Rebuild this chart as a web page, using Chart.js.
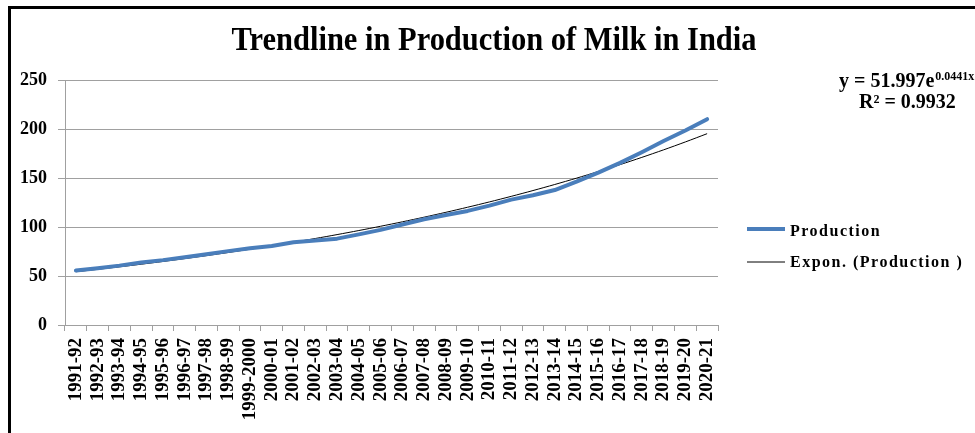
<!DOCTYPE html>
<html>
<head>
<meta charset="utf-8">
<script src="https://cdn.jsdelivr.net/npm/chart.js@4"></script>
<style>
  html, body { margin: 0; padding: 0; background: #fff; }
  #wrap { width: 975px; height: 433px; position: relative; }
</style>
</head>
<body>
<div id="wrap"><canvas id="c" width="975" height="433"></canvas></div>
<script>
const categories = ["1991-92","1992-93","1993-94","1994-95","1995-96","1996-97","1997-98","1998-99","1999-2000","2000-01","2001-02","2002-03","2003-04","2004-05","2005-06","2006-07","2007-08","2008-09","2009-10","2010-11","2011-12","2012-13","2013-14","2014-15","2015-16","2016-17","2017-18","2018-19","2019-20","2020-21"];
const production = [55.6, 58.0, 60.6, 63.8, 66.2, 69.1, 72.1, 75.4, 78.3, 80.6, 84.4, 86.2, 88.1, 92.5, 97.1, 102.6, 107.9, 112.2, 116.4, 121.8, 127.9, 132.4, 137.7, 146.3, 155.5, 165.4, 176.3, 187.7, 198.4, 210.0];
const exponTrend = [54.34, 56.79, 59.35, 62.03, 64.82, 67.75, 70.80, 73.99, 77.33, 80.82, 84.46, 88.27, 92.25, 96.40, 100.75, 105.29, 110.04, 115.00, 120.19, 125.60, 131.27, 137.19, 143.37, 149.83, 156.59, 163.65, 171.03, 178.73, 186.79, 195.22];
const yTicks = [0, 50, 100, 150, 200, 250];
const titleText = "Trendline in Production of Milk in India";
const eqMain = "y = 51.997e";
const eqSup = "0.0441x";
const r2Text = "R² = 0.9932";

const FONT = '"Liberation Serif", "Times New Roman", serif';

const decor = {
  id: 'decor',
  afterDraw(chart) {
    const ctx = chart.ctx;
    ctx.save();
    // outer border (left & top visible)
    ctx.fillStyle = '#000';
    ctx.fillRect(8, 6, 3, 433);
    ctx.fillRect(8, 6, 975, 3);

    // title
    ctx.font = 'bold 28px ' + FONT;
    const w = ctx.measureText(titleText).width;
    ctx.save();
    ctx.translate(494, 50);
    ctx.scale(525 / w, 1.17);
    ctx.textAlign = 'center';
    ctx.textBaseline = 'alphabetic';
    ctx.fillText(titleText, 0, 0);
    ctx.restore();

    // equation
    ctx.textAlign = 'left';
    ctx.textBaseline = 'alphabetic';
    ctx.font = 'bold 20px ' + FONT;
    ctx.fillText(eqMain, 839, 87);
    const ew = ctx.measureText(eqMain).width;
    ctx.font = 'bold 12px ' + FONT;
    ctx.fillText(eqSup, 839 + ew + 1, 80);
    ctx.font = 'bold 20px ' + FONT;
    ctx.fillText(r2Text, 859, 108);

    // legend
    const ds = chart.data.datasets;
    const rows = [236, 267];
    const lineY = [229, 262];
    ds.forEach((d, i) => {
      ctx.strokeStyle = d.borderColor;
      ctx.lineWidth = d.borderWidth;
      ctx.beginPath();
      ctx.moveTo(747, lineY[i]);
      ctx.lineTo(785, lineY[i]);
      ctx.stroke();
      ctx.fillStyle = '#000';
      ctx.font = 'bold 16px ' + FONT;
      try { ctx.letterSpacing = '1.5px'; } catch (e) {}
      ctx.fillText(d.label, 790, rows[i]);
      try { ctx.letterSpacing = '0px'; } catch (e) {}
    });
    ctx.restore();
  }
};

new Chart(document.getElementById('c'), {
  type: 'line',
  data: {
    labels: categories,
    datasets: [
      { label: 'Production', data: production, borderColor: '#4a7ebb', borderWidth: 4, pointRadius: 0, tension: 0, fill: false, borderCapStyle: 'round', borderJoinStyle: 'round' },
      { label: 'Expon. (Production )', data: exponTrend, borderColor: '#000000', borderWidth: 1, pointRadius: 0, tension: 0.3, fill: false }
    ]
  },
  options: {
    responsive: false,
    animation: false,
    events: [],
    layout: { padding: { left: 0, right: 257, top: 80, bottom: 0 } },
    plugins: { legend: { display: false }, title: { display: false }, tooltip: { enabled: false } },
    scales: {
      x: {
        offset: true,
        grid: { display: true, drawOnChartArea: false, drawTicks: true, tickLength: 6, offset: true, color: '#a0a0a0' },
        border: { display: true, color: '#a0a0a0', width: 1 },
        ticks: { color: '#000', font: { family: FONT, size: 19, weight: 'bold' }, minRotation: 90, maxRotation: 90, autoSkip: false, padding: 7 },
        afterFit: s => { s.height = 108; }
      },
      y: {
        min: 0, max: 250,
        afterBuildTicks: s => { s.ticks = yTicks.map(v => ({ value: v })); },
        grid: { color: '#a0a0a0', tickLength: 7, drawTicks: true },
        border: { display: true, color: '#a0a0a0', width: 1 },
        ticks: { color: '#000', font: { family: FONT, size: 18, weight: 'bold' }, padding: 11 },
        afterFit: s => { s.width = 65; }
      }
    }
  },
  plugins: [decor]
});
</script>
</body>
</html>
